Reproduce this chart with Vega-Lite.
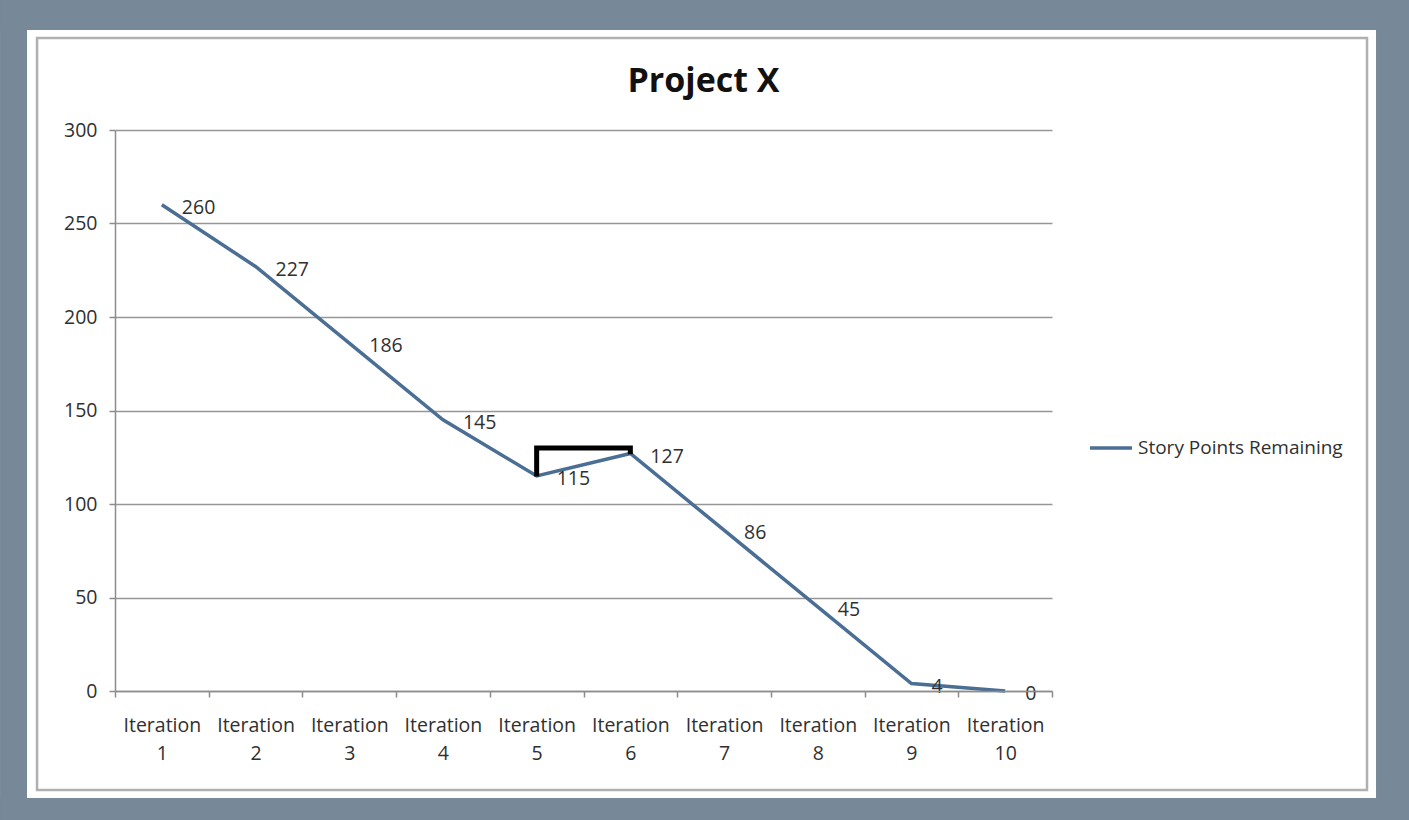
{
  "$schema": "https://vega.github.io/schema/vega-lite/v6.json",
  "width": 937,
  "height": 561,
  "autosize": {"type": "none"},
  "padding": {"left": 115, "top": 130, "right": 357, "bottom": 129},
  "background": "white",
  "config": {
    "view": {"stroke": null},
    "font": "Open Sans"
  },
  "title": {
    "text": "Project X",
    "fontSize": 34,
    "fontWeight": "bold",
    "font": "Open Sans",
    "color": "#111111",
    "anchor": "middle",
    "frame": "group",
    "baseline": "alphabetic",
    "dx": 120,
    "offset": -126
  },
  "layer": [
    {
      "data": {"values": [
        {"fx": -0.727, "fx2": -0.439, "fy": 369.5, "fy2": -68.98},
        {"fx": 13.958, "fx2": 14.31, "fy": 369.5, "fy2": -68.98},
        {"fx": -0.727, "fx2": 14.31, "fy": 369.5, "fy2": 353.5},
        {"fx": -0.727, "fx2": 14.31, "fy": -57.2, "fy2": -68.98}
      ]},
      "mark": {"type": "rect", "clip": false, "color": "#778899"},
      "encoding": {
        "x": {"field": "fx", "type": "quantitative", "scale": {"domain": [0.5, 10.5], "nice": false, "zero": false}, "axis": null},
        "x2": {"field": "fx2"},
        "y": {"field": "fy", "type": "quantitative", "scale": {"domain": [0, 300], "nice": false, "zero": false}, "axis": null},
        "y2": {"field": "fy2"}
      }
    },
    {
      "data": {"values": [
        {"bx": -0.332, "bx2": 13.862, "by": 349.2, "by2": -52.9}
      ]},
      "mark": {"type": "rect", "clip": false, "filled": false, "stroke": "#b0b0b0", "strokeWidth": 2.5},
      "encoding": {
        "x": {"field": "bx", "type": "quantitative", "scale": {"domain": [0.5, 10.5], "nice": false, "zero": false}, "axis": null},
        "x2": {"field": "bx2"},
        "y": {"field": "by", "type": "quantitative", "scale": {"domain": [0, 300], "nice": false, "zero": false}, "axis": null},
        "y2": {"field": "by2"}
      }
    },
    {
      "data": {"values": [
        {"iteration": "Iteration 1", "points": 260, "series": "Story Points Remaining"},
        {"iteration": "Iteration 2", "points": 227, "series": "Story Points Remaining"},
        {"iteration": "Iteration 3", "points": 186, "series": "Story Points Remaining"},
        {"iteration": "Iteration 4", "points": 145, "series": "Story Points Remaining"},
        {"iteration": "Iteration 5", "points": 115, "series": "Story Points Remaining"},
        {"iteration": "Iteration 6", "points": 127, "series": "Story Points Remaining"},
        {"iteration": "Iteration 7", "points": 86, "series": "Story Points Remaining"},
        {"iteration": "Iteration 8", "points": 45, "series": "Story Points Remaining"},
        {"iteration": "Iteration 9", "points": 4, "series": "Story Points Remaining"},
        {"iteration": "Iteration 10", "points": 0, "series": "Story Points Remaining"}
      ]},
      "encoding": {
        "x": {
          "field": "iteration",
          "type": "nominal",
          "sort": null,
          "scale": {"type": "band", "paddingInner": 0, "paddingOuter": 0,
            "domain": ["Iteration 1", "Iteration 2", "Iteration 3", "Iteration 4", "Iteration 5", "Iteration 6", "Iteration 7", "Iteration 8", "Iteration 9", "Iteration 10"]},
          "axis": {
            "title": null,
            "labelAngle": 0,
            "labelExpr": "split(datum.label, ' ')",
            "labelLineHeight": 28,
            "labelFontSize": 19.5,
            "labelFont": "Open Sans",
            "labelColor": "#303030",
            "labelBaseline": "top",
            "labelPadding": 19,
            "tickBand": "extent",
            "tickSize": 6,
            "tickColor": "#8c8c8c",
            "domainColor": "#8c8c8c",
            "domainWidth": 1.5,
            "tickWidth": 1.5,
            "grid": false,
            "zindex": 1
          }
        },
        "y": {
          "field": "points",
          "type": "quantitative",
          "scale": {"domain": [0, 300], "nice": false},
          "axis": {
            "title": null,
            "values": [0, 50, 100, 150, 200, 250, 300],
            "grid": true,
            "gridColor": "#969696",
            "gridWidth": 1.5,
            "domainColor": "#8c8c8c",
            "domainWidth": 1.5,
            "tickColor": "#8c8c8c",
            "tickWidth": 1.5,
            "tickSize": 6,
            "labelPadding": 12,
            "labelFontSize": 19.5,
            "labelFont": "Open Sans",
            "labelColor": "#303030"
          }
        }
      },
      "layer": [
        {
          "mark": {"type": "line", "strokeWidth": 3.5},
          "encoding": {
            "color": {
              "field": "series",
              "type": "nominal",
              "scale": {"range": ["#4b6e94"]},
              "legend": {
                "title": null,
                "orient": "none",
                "legendX": 973,
                "legendY": 295,
                "padding": 0,
                "symbolType": "stroke",
                "symbolSize": 1764,
                "symbolStrokeWidth": 3.5,
                "labelFontSize": 19,
                "labelFont": "Open Sans",
                "labelColor": "#303030",
                "labelOffset": 4,
                "labelLimit": 0
              }
            }
          }
        },
        {
          "mark": {"type": "text", "align": "left", "dx": 20, "dy": 3, "fontSize": 19.5, "font": "Open Sans", "color": "#303030"},
          "encoding": {
            "text": {"field": "points", "type": "quantitative"}
          }
        },
        {
          "data": {"values": [
            {"ax": "Iteration 5", "ay": 116, "o": 1},
            {"ax": "Iteration 5", "ay": 130, "o": 2},
            {"ax": "Iteration 6", "ay": 130, "o": 3},
            {"ax": "Iteration 6", "ay": 128, "o": 4}
          ]},
          "mark": {"type": "line", "color": "#000000", "strokeWidth": 5, "strokeCap": "square", "strokeJoin": "miter"},
          "encoding": {
            "x": {"field": "ax", "type": "nominal", "sort": null},
            "y": {"field": "ay", "type": "quantitative"},
            "order": {"field": "o", "type": "quantitative"}
          }
        }
      ]
    }
  ],
  "resolve": {"scale": {"x": "independent", "y": "independent"}}
}
